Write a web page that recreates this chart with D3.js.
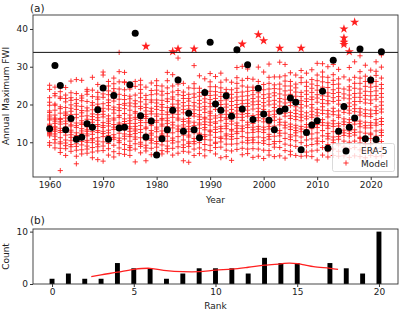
<!DOCTYPE html>
<html><head><meta charset="utf-8">
<script src="https://cdn.jsdelivr.net/npm/d3@7"></script>
<style>
html,body{margin:0;padding:0;background:#fff;}
svg text{font-family:"DejaVu Sans",sans-serif;fill:#222;}
</style></head>
<body>
<svg id="c" width="400" height="310"></svg>
<script>
// ---------- DATA ----------
const years = d3.range(1960, 2023);
const era5 = [13.6,30.3,25.0,13.3,16.3,10.8,11.3,14.9,14.0,18.6,
  24.4,10.8,22.4,13.8,14.0,25.2,38.9,17.0,11.4,15.6,
  6.6,10.9,13.3,18.5,26.5,12.9,17.7,13.3,11.2,23.2,
  36.5,20.1,18.5,22.3,16.9,34.5,18.8,30.5,16.0,24.3,
  17.5,15.8,13.3,18.2,18.8,21.7,20.6,8.0,12.6,14.6,
  15.7,23.5,8.4,31.7,12.9,19.5,14.0,16.4,34.7,10.9,
  26.5,10.7,34.0];
const threshold = 33.8;
const model = [
[25.1,24.0,20.6,19.8,17.9,16.2,15.9,14.8,14.5,12.3,12.0,11.7,9.9,9.2,17.2,13.1,16.7,21.8,12.6,18.3],
[20.1,19.8,16.4,16.1,12.9,12.2,11.6,15.0,14.1,13.8,18.5,22.3,22.9,17.2,9.8,8.5,10.7,24.6,13.3,15.6],
[25.2,23.4,22.0,21.6,18.9,16.3,16.0,13.7,11.2,10.1,8.4,7.3,2.5,13.1,17.7,19.4,14.8,12.6,9.6,15.4],
[24.5,21.6,19.2,17.5,17.1,16.4,14.0,11.9,10.6,9.1,8.3,12.8,13.5,15.6,18.0,20.7,6.5,9.8,22.5,14.9],
[26.2,23.1,21.8,19.9,18.2,15.4,14.6,13.2,12.7,11.3,10.4,8.8,7.6,16.6,17.3,21.1,9.4,14.3,19.0,12.0],
[26.6,22.9,20.3,18.7,16.5,15.1,13.9,12.5,11.8,11.4,9.6,8.9,7.9,6.3,4.3,17.4,14.4,19.6,10.7,21.3],
[26.4,21.7,21.0,19.5,17.8,15.7,14.7,13.0,12.4,10.9,10.2,9.3,8.0,6.9,16.9,22.3,18.4,11.6,15.1,13.6],
[24.0,22.7,20.8,19.1,17.0,16.1,14.9,13.3,12.9,11.7,10.5,9.0,8.2,7.1,18.3,15.5,23.5,14.1,10.0,12.2],
[27.2,23.8,22.1,20.5,18.6,16.8,15.3,14.5,13.7,12.1,11.0,9.9,8.6,7.4,5.9,17.5,19.8,12.8,10.6,16.0],
[25.3,23.2,21.4,18.1,17.3,15.8,14.2,13.1,12.6,11.2,10.3,9.5,7.7,5.4,19.4,16.5,20.1,8.8,14.7,22.0],
[28.6,27.8,24.4,21.9,20.2,18.2,16.7,15.2,13.9,12.3,11.5,10.1,9.0,7.8,5.0,17.4,19.0,14.4,22.8,12.9],
[26.1,24.9,22.6,19.7,18.8,17.0,15.6,14.3,13.2,11.8,10.7,9.7,8.3,6.6,21.2,16.2,12.5,20.5,15.0,23.6],
[27.0,24.2,23.3,20.9,19.3,17.7,15.9,14.7,13.4,12.0,10.8,9.2,7.5,6.1,18.6,16.4,21.7,11.3,14.0,25.5],
[33.8,28.7,26.0,22.7,20.0,18.4,16.6,15.1,13.6,12.4,11.1,9.9,8.5,7.0,19.1,17.1,21.4,14.6,24.1,10.4],
[28.5,25.8,23.9,21.3,19.8,17.6,16.2,14.9,13.3,12.2,10.9,9.4,8.1,6.8,18.9,15.5,22.4,26.0,11.6,20.3],
[24.1,22.2,20.4,18.5,17.2,15.7,14.1,12.9,11.5,10.3,9.1,7.9,6.5,16.4,19.6,13.6,21.5,8.6,15.0,12.0],
[26.1,24.8,21.0,19.4,17.7,16.6,15.0,13.5,12.3,10.8,9.6,8.2,4.8,18.1,22.5,14.2,20.2,11.4,16.1,13.0],
[26.4,25.2,23.0,20.7,18.9,17.2,15.8,14.4,12.6,11.2,10.0,8.9,7.2,21.8,16.5,19.5,13.4,24.0,9.5,15.2],
[35.4,24.6,22.4,20.1,18.3,16.3,15.2,13.6,12.1,10.6,9.2,7.7,5.1,19.2,17.4,21.3,14.0,11.0,16.8,8.5],
[25.7,23.7,21.2,19.0,17.5,16.0,14.5,13.1,11.9,10.5,9.8,8.4,6.7,18.2,15.4,20.6,12.4,22.6,14.9,10.9],
[26.3,25.0,22.8,20.4,18.7,16.9,15.3,14.0,12.8,11.4,10.2,8.7,7.3,19.5,17.5,13.5,21.2,9.6,15.8,23.8],
[24.9,22.5,21.1,19.3,17.4,15.9,14.3,13.0,11.8,10.4,9.3,7.8,6.9,18.4,16.3,20.0,12.2,23.5,14.8,10.8],
[28.5,26.3,22.9,20.8,19.2,17.3,15.7,14.1,13.0,11.6,10.3,9.0,7.5,18.0,16.4,21.5,12.5,24.4,15.0,8.3],
[34.0,27.9,24.9,22.0,20.1,18.1,16.6,15.3,13.8,12.5,11.1,9.8,8.4,6.6,19.4,17.5,21.4,14.6,23.3,10.5],
[34.7,32.3,26.8,23.7,21.0,19.1,17.4,15.9,14.3,12.9,11.5,10.1,8.8,7.1,20.1,18.3,22.6,13.5,16.4,25.4],
[25.6,23.3,21.6,19.6,17.8,16.1,14.6,13.2,11.9,10.6,9.3,7.6,5.1,18.7,15.5,20.5,12.4,22.4,14.0,8.6],
[24.4,22.7,20.9,18.8,17.1,15.6,14.2,12.8,11.4,10.1,8.9,7.4,4.7,19.7,16.3,21.6,13.5,9.7,15.1,11.9],
[34.7,30.3,25.5,22.8,20.5,18.6,16.9,15.3,13.9,12.5,11.0,9.6,8.2,6.5,19.6,17.6,21.9,14.4,24.3,10.2],
[27.6,24.3,22.2,20.2,18.5,16.7,15.1,13.7,12.4,11.1,9.9,8.5,7.0,19.3,17.3,14.6,21.1,12.0,16.0,23.2],
[26.8,23.6,21.5,19.5,17.9,16.2,14.7,13.3,12.0,10.7,9.4,8.0,6.4,18.8,15.4,20.6,13.9,22.5,11.5,16.6],
[28.2,26.0,23.5,21.3,19.4,17.7,16.1,14.5,13.2,11.9,10.6,9.2,7.8,20.3,18.2,15.3,22.4,12.8,24.7,17.0],
[27.4,24.7,22.5,20.6,18.7,17.0,15.4,14.0,12.6,11.3,10.0,8.6,6.9,19.8,16.4,21.6,13.4,23.4,15.0,9.7],
[28.3,25.9,23.2,21.0,19.1,17.3,15.7,14.2,12.8,11.4,10.1,8.7,5.9,20.0,16.6,22.1,13.6,18.4,24.4,11.0],
[26.5,24.0,22.0,20.1,18.3,16.5,15.0,13.6,12.2,10.9,9.5,7.9,6.2,19.3,17.4,14.3,21.2,11.7,16.1,23.1],
[25.9,23.9,21.7,19.7,17.9,16.3,14.8,13.4,12.1,10.8,9.5,7.7,5.2,18.7,15.6,20.8,13.0,22.7,11.5,16.9],
[29.8,27.1,24.3,22.0,20.0,18.3,16.6,15.1,13.7,12.3,11.0,9.6,8.1,21.1,17.5,19.2,14.4,23.2,12.8,25.6],
[36.0,30.1,26.4,23.3,21.1,19.2,17.4,15.8,14.3,12.9,11.5,10.0,8.4,6.7,20.2,18.0,22.2,13.6,16.6,24.9],
[29.4,26.9,24.6,22.3,20.3,18.5,16.9,15.3,13.9,12.5,11.2,9.8,8.2,7.0,21.2,17.6,19.5,14.6,23.5,10.5],
[26.7,24.6,22.6,20.7,18.8,17.1,15.5,14.0,12.6,11.3,9.9,8.3,6.0,19.9,16.3,21.6,13.3,23.7,15.0,10.6],
[38.5,29.9,26.1,23.1,20.9,19.0,17.3,15.7,14.2,12.8,11.4,9.9,8.2,6.3,20.0,18.1,22.0,13.5,16.5,24.5],
[36.9,28.6,25.3,22.6,20.5,18.7,17.0,15.4,14.0,12.6,11.2,9.7,7.9,5.7,19.6,16.2,21.6,13.3,23.9,10.4],
[30.7,27.2,24.1,21.9,19.9,18.1,16.4,14.9,13.5,12.1,10.8,9.4,7.8,6.6,20.9,17.2,22.8,14.2,11.5,25.6],
[27.3,25.2,23.1,21.1,19.2,17.4,15.8,14.3,12.9,11.6,10.2,8.7,6.2,20.1,16.7,22.3,13.6,18.3,24.2,9.6],
[34.9,31.2,27.3,24.1,21.6,19.6,17.8,16.1,14.6,13.1,11.7,10.2,8.6,6.4,20.7,18.6,22.8,15.3,25.4,12.4],
[30.6,27.6,24.9,22.5,20.4,18.6,16.9,15.3,13.8,12.4,11.0,9.5,7.8,5.8,21.4,17.7,23.6,14.5,19.5,26.2],
[28.4,26.1,23.8,21.6,19.7,17.9,16.3,14.8,13.4,12.0,10.7,9.2,7.6,6.7,20.6,17.0,22.7,14.1,24.9,11.4],
[27.8,25.4,23.3,21.3,19.4,17.6,16.0,14.5,13.1,11.7,10.4,8.9,6.5,20.3,16.8,22.2,13.8,18.5,24.4,12.5],
[34.9,29.0,25.8,23.2,21.0,19.1,17.3,15.7,14.2,12.8,11.4,9.9,8.2,6.3,20.0,18.2,22.1,13.5,16.6,27.1],
[28.3,25.9,23.6,21.5,19.6,17.8,16.2,14.7,13.3,11.9,10.6,9.1,7.4,6.4,20.8,16.9,22.7,14.0,24.8,12.7],
[29.2,26.6,24.3,22.0,20.0,18.2,16.6,15.0,13.6,12.2,10.9,9.4,7.7,6.2,21.3,17.3,23.2,14.3,19.1,25.4],
[30.9,27.8,25.0,22.6,20.6,18.7,17.0,15.4,13.9,12.5,11.1,9.6,7.9,5.3,21.7,17.8,23.8,14.7,26.3,10.3],
[30.8,28.6,26.0,23.5,21.3,19.4,17.6,16.0,14.5,13.1,11.7,10.2,8.6,6.6,22.3,18.5,24.6,15.2,20.3,27.3],
[30.0,27.2,24.5,22.2,20.2,18.4,16.7,15.1,13.7,12.3,10.9,9.4,7.7,6.1,21.0,17.5,23.1,14.4,25.8,11.6],
[30.6,27.9,25.3,22.9,20.8,19.0,17.3,15.7,14.2,12.8,11.4,9.9,8.2,6.5,21.8,18.1,23.9,14.9,26.4,10.6],
[29.3,26.8,24.3,22.1,20.1,18.3,16.6,15.0,13.6,12.2,10.8,9.3,7.6,6.3,21.1,17.2,23.2,14.3,25.4,11.5],
[40.0,37.6,36.5,35.9,27.3,24.1,21.7,19.7,17.9,16.2,14.7,13.2,11.8,10.3,8.7,6.4,22.8,18.8,15.4,12.5],
[34.0,29.8,26.5,23.8,21.5,19.5,17.7,16.0,14.5,13.0,11.6,10.0,8.3,6.0,22.5,18.5,24.7,15.2,20.4,12.3],
[41.8,31.3,27.2,24.3,21.9,19.9,18.1,16.4,14.8,13.3,11.9,10.3,8.6,6.4,22.9,18.9,25.6,15.6,20.8,12.6],
[32.9,28.7,25.6,23.0,20.8,18.9,17.2,15.6,14.1,12.7,11.3,9.8,8.0,6.2,21.9,18.0,24.1,14.9,27.0,11.0],
[30.4,27.5,24.8,22.4,20.4,18.6,16.9,15.3,13.8,12.4,11.0,9.5,7.7,5.9,21.4,17.6,23.5,14.4,26.1,10.3],
[29.1,27.0,24.6,22.3,20.3,18.5,16.8,15.2,13.8,12.4,11.0,9.5,7.8,6.5,21.2,17.5,23.4,14.5,25.5,12.0],
[31.3,28.8,26.1,23.6,21.4,19.4,17.6,16.0,14.5,13.0,11.6,10.1,8.3,6.2,22.4,18.4,24.8,15.1,27.7,11.2],
[33.1,29.9,27.0,24.2,21.9,19.8,18.0,16.3,14.7,13.2,11.8,10.2,8.5,6.4,22.9,18.8,25.3,15.5,20.7,12.6]
];
const xTicksA = [1960,1970,1980,1990,2000,2010,2020];
const yTicksA = [10,20,30,40];
const ranks = [0,1,2,3,4,5,6,7,8,9,10,11,12,13,14,15,16,17,18,19,20];
const rankCounts = [1,2,1,1,4,3,3,1,2,3,3,3,2,5,4,4,0,4,3,2,10];
const smoothX = [2.4,3,4,5,6,7,8,9,10,11,12,13,14,14.5,15,15.5,16,17,17.5];
const smoothY = [1.4,1.75,2.25,2.8,3.0,2.55,2.35,2.35,2.65,2.85,3.2,3.6,3.85,4.0,3.9,3.6,3.3,3.0,2.8];
const xTicksB = [0,5,10,15,20];
const yTicksB = [0,10];

// ---------- DRAW ----------
const svg = d3.select("#c");
const FS = 9;
const L = 33, R = 398;
const RED = "#ff2020";

// Panel (a)
const aT = 15, aB = 177;
const xA = d3.scaleLinear().domain([1956.9, 2025.1]).range([L, R]);
const yA = d3.scaleLinear().domain([0.8, 43.7]).range([aB, aT]);
const gA = svg.append("g");

const pts = [];
model.forEach((row, i) => row.forEach(v => pts.push({yr: years[i], v})));
const plus = "M-2.6,0H2.6M0,-2.6V2.6";
gA.append("g").selectAll("path.p").data(pts.filter(d => d.v <= threshold)).join("path")
  .attr("d", plus).attr("transform", d => `translate(${xA(d.yr)},${yA(d.v)})`)
  .attr("stroke", RED).attr("stroke-width", 0.9).attr("fill", "none");
const star = d3.symbol().type(d3.symbolStar).size(26);
gA.append("g").selectAll("path.s").data(pts.filter(d => d.v > threshold)).join("path")
  .attr("d", star).attr("transform", d => `translate(${xA(d.yr)},${yA(d.v)})`)
  .attr("fill", RED);
gA.append("line").attr("x1", L).attr("x2", R).attr("y1", yA(threshold)).attr("y2", yA(threshold))
  .attr("stroke", "#111").attr("stroke-width", 1);
gA.append("g").selectAll("circle").data(era5).join("circle")
  .attr("cx", (d, i) => xA(years[i])).attr("cy", d => yA(d)).attr("r", 3.5).attr("fill", "#000");

gA.append("g").attr("transform", `translate(0,${aB})`)
  .call(d3.axisBottom(xA).tickValues(xTicksA).tickFormat(d3.format("d")).tickSize(3).tickPadding(2));
gA.append("g").attr("transform", `translate(${L},0)`)
  .call(d3.axisLeft(yA).tickValues(yTicksA).tickSize(3).tickPadding(2));
gA.append("rect").attr("x", L).attr("y", aT).attr("width", R - L).attr("height", aB - aT)
  .attr("fill", "none").attr("stroke", "#333").attr("stroke-width", 0.9);

// legend
const lg = gA.append("g");
lg.append("rect").attr("x", 332.5).attr("y", 143.5).attr("width", 62).attr("height", 28).attr("rx", 2)
  .attr("fill", "rgba(255,255,255,0.8)").attr("stroke", "#d0d0d0").attr("stroke-width", 0.8);
lg.append("circle").attr("cx", 346).attr("cy", 151).attr("r", 3.5).attr("fill", "#000");
lg.append("path").attr("d", plus).attr("transform", "translate(346,163)").attr("stroke", RED).attr("stroke-width", 0.9).attr("fill", "none");
lg.append("text").attr("x", 361).attr("y", 154.2).attr("font-size", FS).text("ERA-5");
lg.append("text").attr("x", 361).attr("y", 166.5).attr("font-size", FS).text("Model");

svg.append("text").attr("x", 30).attr("y", 11.5).attr("font-size", 10.5).text("(a)");
svg.append("text").attr("x", (L + R) / 2).attr("y", 202.5).attr("text-anchor", "middle").attr("font-size", FS).text("Year");
svg.append("text").attr("transform", `translate(9,${(aT + aB) / 2}) rotate(-90)`).attr("text-anchor", "middle")
  .attr("font-size", FS).text("Annual Maximum FWI");

// Panel (b)
const bT = 229, bB = 284;
const xB = d3.scaleLinear().domain([-1.165, 21.165]).range([L, R]);
const yB = d3.scaleLinear().domain([0, 10.5]).range([bB, bT]);
const gB = svg.append("g");
const bw = xB(0.3) - xB(0);
gB.selectAll("rect.bar").data(ranks).join("rect")
  .attr("x", (d) => xB(d) - bw / 2).attr("width", bw)
  .attr("y", (d, i) => yB(rankCounts[i])).attr("height", (d, i) => yB(0) - yB(rankCounts[i]))
  .attr("fill", "#000");
const line = d3.line().x((d, i) => xB(smoothX[i])).y(d => yB(d)).curve(d3.curveCatmullRom);
gB.append("path").attr("d", line(smoothY)).attr("fill", "none").attr("stroke", RED).attr("stroke-width", 1.3);
gB.append("g").attr("transform", `translate(0,${bB})`)
  .call(d3.axisBottom(xB).tickValues(xTicksB).tickSize(3).tickPadding(2));
gB.append("g").attr("transform", `translate(${L},0)`)
  .call(d3.axisLeft(yB).tickValues(yTicksB).tickSize(3).tickPadding(2));
gB.append("rect").attr("x", L).attr("y", bT).attr("width", R - L).attr("height", bB - bT)
  .attr("fill", "none").attr("stroke", "#333").attr("stroke-width", 0.9);
svg.append("text").attr("x", 30).attr("y", 224).attr("font-size", 10.5).text("(b)");
svg.append("text").attr("x", (L + R) / 2).attr("y", 308.5).attr("text-anchor", "middle").attr("font-size", FS).text("Rank");
svg.append("text").attr("transform", `translate(9,${(bT + bB) / 2}) rotate(-90)`).attr("text-anchor", "middle")
  .attr("font-size", FS).text("Count");

svg.selectAll(".domain").remove();
svg.selectAll(".tick line").attr("stroke", "#333");
svg.selectAll(".tick text").attr("font-size", FS).attr("font-family", "DejaVu Sans").attr("fill", "#222");
</script>
</body></html>
